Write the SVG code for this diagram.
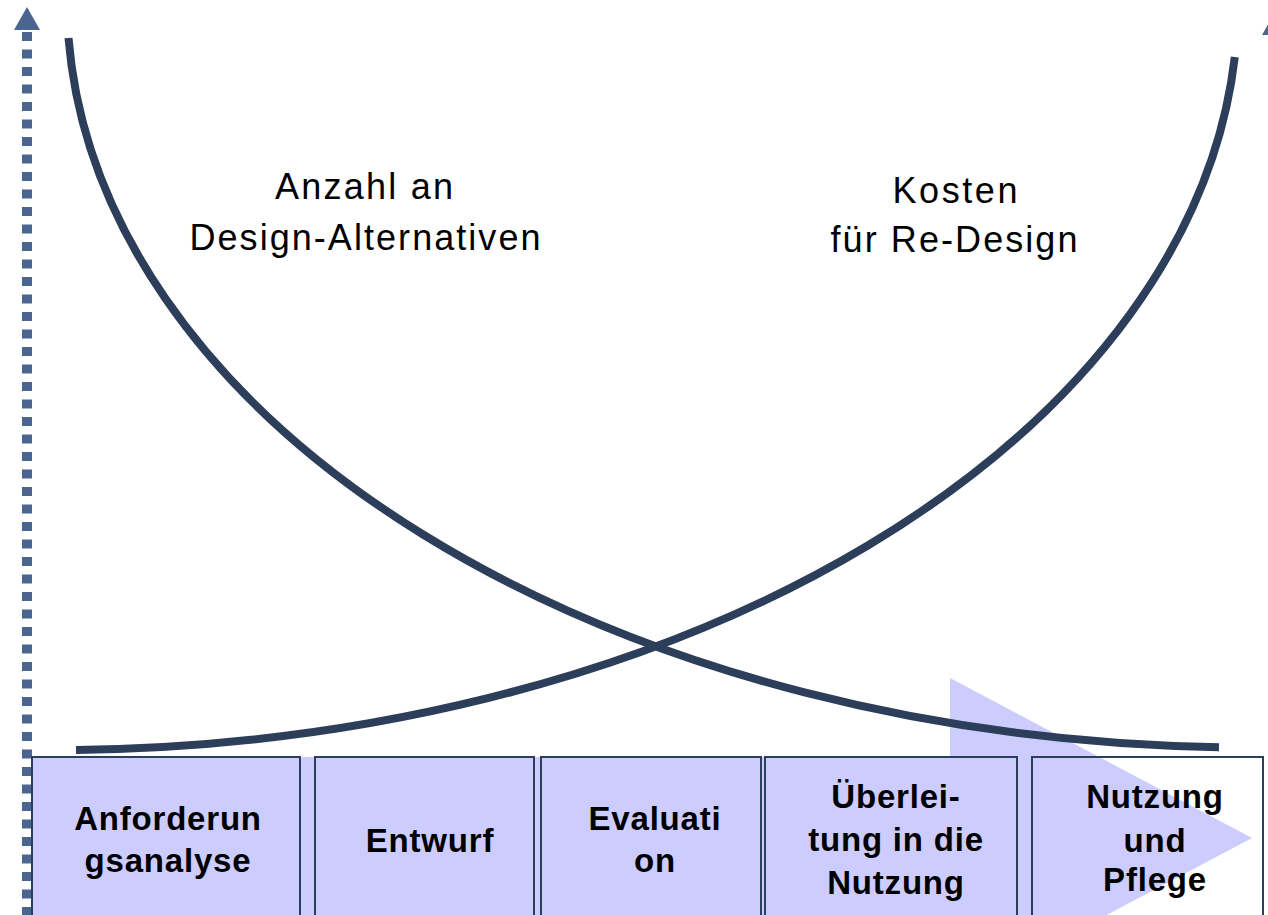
<svg xmlns="http://www.w3.org/2000/svg" width="1268" height="915" viewBox="0 0 1268 915">
<style>
.box{fill:#ccccff;stroke:#2c3e5a;stroke-width:2}
.box5{fill:none;stroke:#2c3e5a;stroke-width:2}
.curve{fill:none;stroke:#2c3e5a;stroke-width:8}
.lbl{font-family:"Liberation Sans",Arial,sans-serif;font-size:36px;fill:#000;text-anchor:middle}
.bt{font-family:"Liberation Sans",Arial,sans-serif;font-size:33px;font-weight:bold;fill:#000;text-anchor:middle;letter-spacing:0.8px}
.axis{stroke:#4a6590;stroke-width:10;stroke-dasharray:9 8.5}
.head{fill:#4a6590}
</style>
<rect width="1268" height="915" fill="#ffffff"/>
<g id="background-arrow">
<polygon points="32,757 950,757 950,678 1252,838 950,998 32,998" fill="#ccccff"/>
</g>
<g id="axis-left">
<line class="axis" x1="27" y1="32" x2="27" y2="915"/>
<polygon class="head" points="27,7 14,30 40,30"/>
</g>
<g id="axis-right">
<polygon class="head" points="1275,12 1262,35 1288,35"/>
</g>
<g id="phase1">
<rect class="box" x="32" y="757" width="268" height="170"/>
<text class="bt" x="168" y="830">Anforderun</text>
<text class="bt" x="168" y="872">gsanalyse</text>
</g>
<g id="phase2">
<rect class="box" x="315" y="757" width="219" height="170"/>
<text class="bt" x="430" y="852">Entwurf</text>
</g>
<g id="phase3">
<rect class="box" x="541" y="757" width="220" height="170"/>
<text class="bt" x="655" y="830">Evaluati</text>
<text class="bt" x="655" y="872">on</text>
</g>
<g id="phase4">
<rect class="box" x="765" y="757" width="252" height="170"/>
<text class="bt" x="896" y="808">Überlei-</text>
<text class="bt" x="896" y="851">tung in die</text>
<text class="bt" x="896" y="894">Nutzung</text>
</g>
<g id="phase5">
<rect class="box5" x="1032" y="757" width="231" height="170"/>
<text class="bt" x="1155" y="808">Nutzung</text>
<text class="bt" x="1155" y="852">und</text>
<text class="bt" x="1155" y="891">Pflege</text>
</g>
<g id="connectors">
<path class="curve" d="M68.5,38 A1183,747.5 0 0 0 1219,747.2"/>
<path class="curve" d="M1234.8,57 A1183,748 0 0 1 76,749.9"/>
</g>
<g id="label-alternatives">
<text class="lbl" x="364" y="199" textLength="178" lengthAdjust="spacing">Anzahl an</text>
<text class="lbl" x="365" y="250" textLength="351" lengthAdjust="spacing">Design-Alternativen</text>
</g>
<g id="label-costs">
<text class="lbl" x="955" y="203" textLength="125" lengthAdjust="spacing">Kosten</text>
<text class="lbl" x="954" y="252" textLength="247" lengthAdjust="spacing">für Re-Design</text>
</g>
</svg>
